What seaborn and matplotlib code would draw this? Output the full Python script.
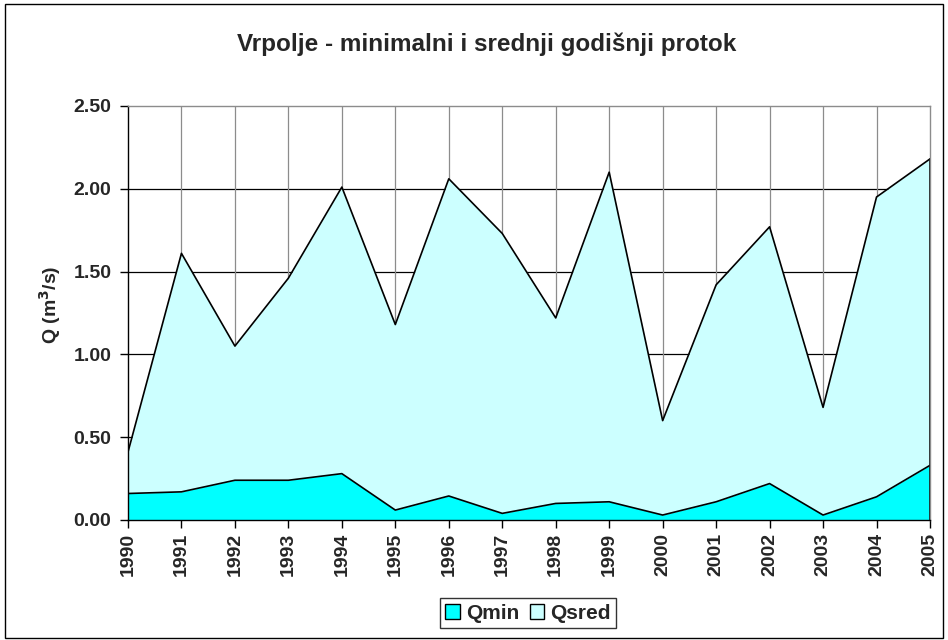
import matplotlib
matplotlib.use("Agg")

import matplotlib.pyplot as plt
import pandas as pd
import seaborn as sns
from matplotlib.patches import Patch, Rectangle

years = list(range(1990, 2006))
q_min = [0.16, 0.17, 0.24, 0.24, 0.28, 0.06, 0.145, 0.04,
         0.10, 0.11, 0.03, 0.11, 0.22, 0.03, 0.14, 0.33]
q_sred = [0.41, 1.61, 1.05, 1.46, 2.01, 1.18, 2.06, 1.73,
          1.22, 2.10, 0.60, 1.42, 1.77, 0.68, 1.95, 2.18]
y_ticks = [0.0, 0.5, 1.0, 1.5, 2.0, 2.5]

title = "Vrpolje - minimalni i srednji godišnji protok"

_MIN_COLOR = "#00FFFF"
_SRED_COLOR = "#CCFFFF"
_GRID_V = "#8c8c8c"

df = pd.DataFrame({"year": years, "Qmin": q_min, "Qsred": q_sred})

sns.set_style("white")
plt.rcParams["font.family"] = ["Liberation Sans", "DejaVu Sans"]
plt.rcParams["font.weight"] = "bold"
plt.rcParams["mathtext.default"] = "bf"

fig = plt.figure(figsize=(9.48, 6.4), dpi=100)
ax = fig.add_axes([0.135, 0.1875, 0.846, 0.647])

# outer chart border
fig.patches.append(Rectangle((0.005, 0.003), 0.99, 0.99, transform=fig.transFigure,
                             fill=False, edgecolor="black", linewidth=1.0))

# grid
for y in y_ticks[1:-1]:
    ax.axhline(y, color="black", linewidth=0.9, zorder=0)
for x in years[1:-1]:
    ax.axvline(x, color=_GRID_V, linewidth=0.9, zorder=0)

ax.fill_between(df["year"], 0, df["Qsred"], color=_SRED_COLOR, zorder=1, linewidth=0)
sns.lineplot(data=df, x="year", y="Qsred", ax=ax, color="black", linewidth=1.2, zorder=2)
ax.fill_between(df["year"], 0, df["Qmin"], color=_MIN_COLOR, zorder=3, linewidth=0)
sns.lineplot(data=df, x="year", y="Qmin", ax=ax, color="black", linewidth=1.2, zorder=4)
ax.plot([years[-1], years[-1]], [0, q_sred[-1]], color="black", linewidth=1.2, zorder=4)

ax.set_xlim(years[0], years[-1])
ax.set_ylim(0, 2.5)
ax.set_xticks(years)
ax.set_xticklabels([str(y) for y in years], rotation=90, fontsize=14, fontweight="bold")
ax.set_yticks(y_ticks)
ax.set_yticklabels([f"{v:.2f}" for v in y_ticks], fontsize=14, fontweight="bold")
ax.tick_params(axis="y", direction="out", length=6, width=1, color="black", pad=6, left=True)
ax.tick_params(axis="x", direction="out", length=6, width=1, color="black", pad=3, bottom=True)

ax.set_xlabel("")
ax.set_ylabel("Q (m$^{3}$/s)", fontsize=14, fontweight="bold")
ax.yaxis.set_label_coords(-0.081, 0.52)

ax.spines["left"].set_color("black")
ax.spines["bottom"].set_color("black")
ax.spines["top"].set_color(_GRID_V)
ax.spines["right"].set_color(_GRID_V)
for s in ax.spines.values():
    s.set_linewidth(1.0)
    s.set_zorder(5)

fig.text(0.513, 0.931, title, ha="center", va="center", fontsize=17.5, fontweight="bold")

handles = [Patch(facecolor=_MIN_COLOR, edgecolor="black", label="Qmin"),
           Patch(facecolor=_SRED_COLOR, edgecolor="black", label="Qsred")]
leg = fig.legend(handles=handles, loc="center", bbox_to_anchor=(0.557, 0.042), ncol=2,
                 frameon=True, fancybox=False, prop={"weight": "bold", "size": 15},
                 handlelength=0.7, handleheight=0.7, handletextpad=0.3, columnspacing=0.5,
                 borderpad=0.25, borderaxespad=0)
leg.get_frame().set_edgecolor("black")
leg.get_frame().set_linewidth(1.0)

fig.savefig("out.png", dpi=100, facecolor="white")
